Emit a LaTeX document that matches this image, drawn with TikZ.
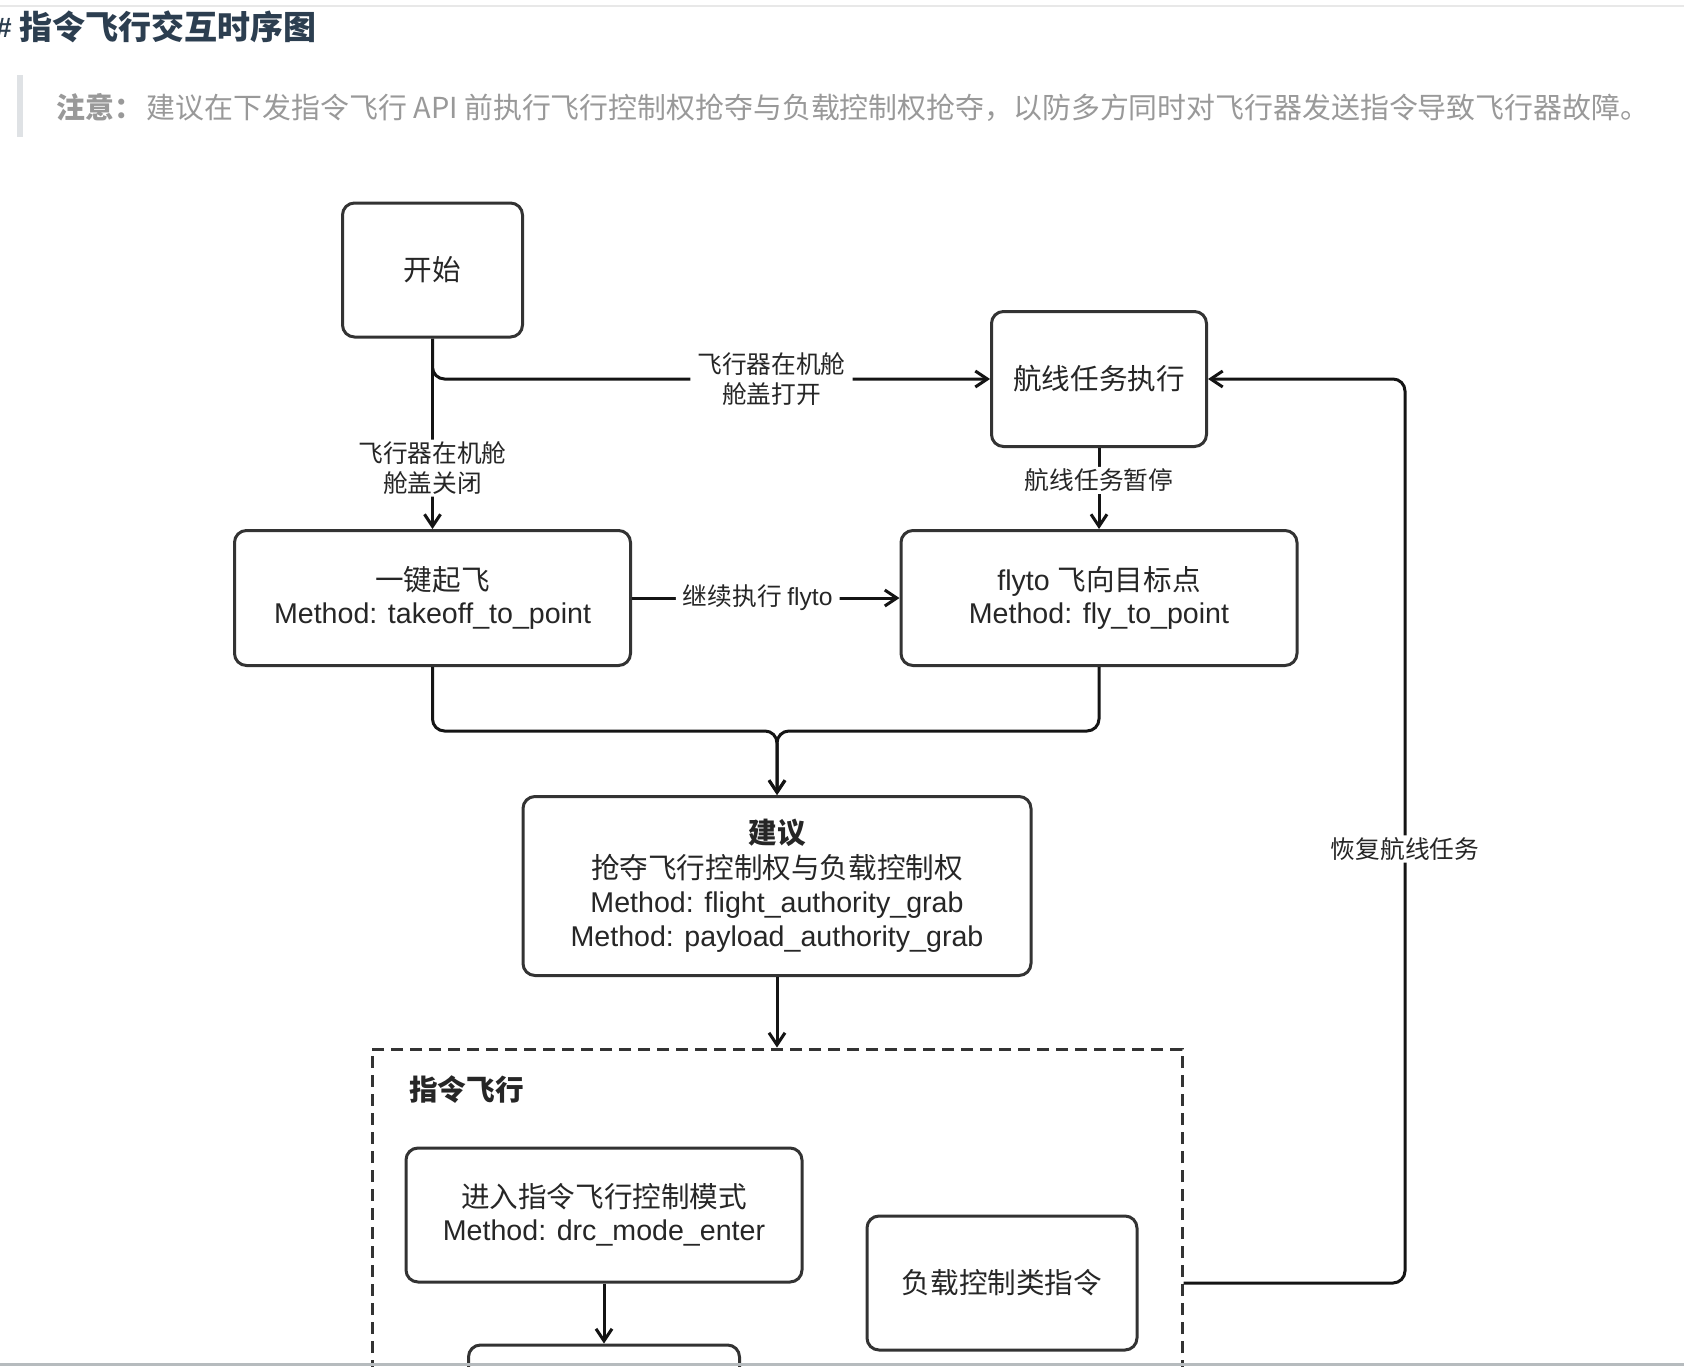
\documentclass[tikz,border=0pt]{standalone}
\usepackage{fontspec}
\setmainfont{Liberation Sans}
\newfontfamily\cjk{Noto Sans CJK SC}
\usetikzlibrary{arrows.meta}
\definecolor{linec}{HTML}{333333}
\definecolor{txtc}{HTML}{262626}
\definecolor{notec}{HTML}{999999}
\definecolor{titlec}{HTML}{2C3E50}
\definecolor{barc}{HTML}{DFE2E5}
\definecolor{topc}{HTML}{E8E8E8}
\definecolor{stripc}{HTML}{B6BBBE}
\begin{document}
\begin{tikzpicture}[x=1pt,y=-1pt,
  box/.style={draw=linec, line width=3pt, rounded corners=12pt, fill=white, inner sep=0pt, align=center, text=txtc, font=\fontsize{28.6pt}{33.3pt}\selectfont},
  conn/.style={draw=black!92, line width=3pt, rounded corners=12pt, -{Straight Barb[length=12pt,width=16pt,line width=3pt]}},
  lbl/.style={fill=white, inner xsep=7pt, inner ysep=2pt, text=txtc, align=center, font=\fontsize{24.7pt}{30pt}\selectfont\cjk},
]
\useasboundingbox (0,0) rectangle (1684,1366);
\clip (0,0) rectangle (1684,1366);
\fill[white] (0,0) rectangle (1684,1366);
\fill[topc] (0,4.5) rectangle (1684,6.5);
% header
\node[anchor=east, inner sep=0pt, text=titlec, font=\fontsize{28pt}{30pt}\selectfont\bfseries] (hash) at (12,28) {\#};
\node[anchor=west, inner sep=0pt, text=titlec, font=\fontsize{33pt}{36pt}\selectfont\cjk\bfseries] (title) at (19,27) {指令飞行交互时序图};
\fill[barc] (17,75) rectangle (23,137);
\node[anchor=west, inner sep=0pt, text=notec, font=\fontsize{28.9pt}{30pt}\selectfont\cjk] (note) at (56,107) {\textbf{注意：}\hspace{4pt}建议在下发指令飞行 API 前执行飞行控制权抢夺与负载控制权抢夺，以防多方同时对飞行器发送指令导致飞行器故障。};
% container
\node[draw=linec, dash pattern=on 12pt off 7pt, line width=3pt, minimum width=810pt, minimum height=520pt, inner sep=0pt] (cont) at (777,1309) {};
\node[anchor=west, inner sep=0pt, text=txtc, font=\fontsize{28.6pt}{32pt}\selectfont\cjk\bfseries] (contTitle) at (409,1090) {指令飞行};
% boxes
\node[box, minimum width=180pt, minimum height=134pt] (start) at (432.5,270) {\cjk 开始};
\node[box, minimum width=215pt, minimum height=135pt] (route) at (1099,379) {\cjk 航线任务执行};
\node[box, minimum width=396pt, minimum height=135pt] (takeoff) at (432.5,598) {{\cjk 一键起飞}\\Method: takeoff\_to\_point};
\node[box, minimum width=396pt, minimum height=135pt] (flyto) at (1099,598) {flyto {\cjk 飞向目标点}\\Method: fly\_to\_point};
\node[box, minimum width=508pt, minimum height=179pt, font=\fontsize{28.6pt}{34.3pt}\selectfont] (advice) at (777,886) {{\cjk\bfseries 建议}\\{\cjk 抢夺飞行控制权与负载控制权}\\Method: flight\_authority\_grab\\Method: payload\_authority\_grab};
\node[box, minimum width=396pt, minimum height=134pt] (enter) at (604,1215) {{\cjk 进入指令飞行控制模式}\\Method: drc\_mode\_enter};
\node[box, minimum width=270pt, minimum height=134pt] (payload) at (1002,1283) {\cjk 负载控制类指令};
\node[box, minimum width=271pt, minimum height=134pt] (next) at (604,1412) {};
% connectors
\draw[conn] (start.south) |- node[lbl, pos=0.804] (lblOpen) {飞行器在机舱\\舱盖打开} (route.west);
\draw[conn] (start.south) -- node[lbl, pos=0.68] (lblClose) {飞行器在机舱\\舱盖关闭} (takeoff.north);
\draw[conn] (route.south) -- node[lbl, pos=0.4] (lblPause) {航线任务暂停} (flyto.north);
\draw[conn] (takeoff.east) -- node[lbl, pos=0.47] (lblCont) {继续执行 {\rmfamily flyto}} (flyto.west);
\coordinate (merge) at (777,731);
\draw[conn] (takeoff.south) |- (merge) -- (advice.north);
\draw[conn] (flyto.south) |- (merge) -- (advice.north);
\draw[conn] (advice.south) -- (cont.north);
\draw[conn] (enter.south) -- (next.north);
\coordinate (rc) at (1405,379);
\draw[conn] (cont.east |- payload.center) -| node[lbl, pos=0.74] (lblResume) {恢复航线任务} (rc) -- (route.east);
\fill[stripc] (0,1363) rectangle (1684,1366);
\end{tikzpicture}
\end{document}
